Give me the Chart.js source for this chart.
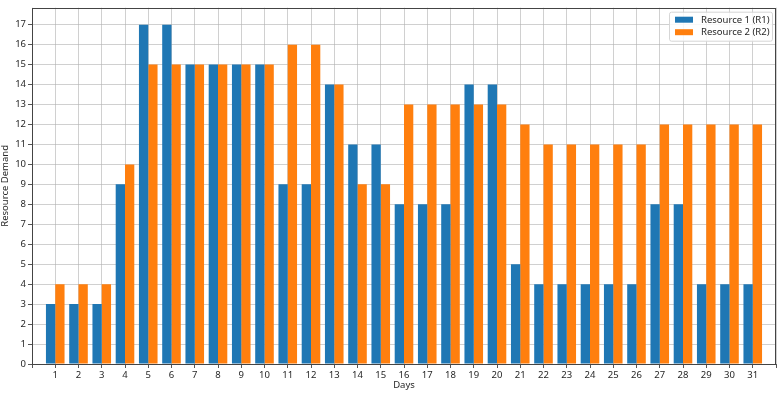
<!DOCTYPE html>
<html>
<head>
<meta charset="utf-8">
<script src="https://cdn.jsdelivr.net/npm/chart.js@4.4.0/dist/chart.umd.min.js"></script>
<style>
  html, body { margin: 0; padding: 0; background: #fff; }
</style>
</head>
<body>
<canvas id="chart" width="779" height="393"></canvas>
<script>
// данные
const days = ['1','2','3','4','5','6','7','8','9','10','11','12','13','14','15','16',
              '17','18','19','20','21','22','23','24','25','26','27','28','29','30','31'];
const r1 = [3, 3, 3, 9, 17, 17, 15, 15, 15, 15, 9, 9, 14, 11, 11, 8,
            8, 8, 14, 14, 5, 4, 4, 4, 4, 4, 8, 8, 4, 4, 4];
const r2 = [4, 4, 4, 10, 15, 15, 15, 15, 15, 15, 16, 16, 14, 9, 9, 13,
            13, 13, 13, 13, 12, 11, 11, 11, 11, 11, 12, 12, 12, 12, 12];
const seriesNames = ['Resource 1 (R1)', 'Resource 2 (R2)'];
const yMax = 17.85;

const FONT = '"Noto Sans", "DejaVu Sans", sans-serif';
const TEXT = '#262626';
const GRID = 'rgba(176,176,176,0.6)';

// пустые позиции по краям, чтобы ось шла от 0 до 32
const labels = [''].concat(days, ['']);
const pad = arr => [null].concat(arr, [null]);

// рамка вокруг области графика + легенда внутри
const frameAndLegend = {
    id: 'frameAndLegend',
    afterDraw(chart) {
        const { ctx, chartArea: a } = chart;
        ctx.save();
        ctx.strokeStyle = '#444';
        ctx.lineWidth = 1;
        ctx.strokeRect(Math.round(a.left) + 0.5, Math.round(a.top) + 0.5,
                       Math.round(a.right - a.left) - 1, Math.round(a.bottom - a.top));

        const w = 103, h = 29;
        const x = a.right - w - 4, y = a.top + 4;
        ctx.fillStyle = 'rgba(255,255,255,0.85)';
        ctx.strokeStyle = '#d6d6d6';
        ctx.beginPath();
        ctx.roundRect(x + 0.5, y + 0.5, w, h, 2);
        ctx.fill();
        ctx.stroke();

        ctx.font = '9.5px ' + FONT;
        ctx.textBaseline = 'middle';
        chart.data.datasets.forEach((ds, i) => {
            ctx.fillStyle = ds.backgroundColor;
            ctx.fillRect(x + 6, y + 5 + i * 12.5, 18, 6);
            ctx.fillStyle = TEXT;
            ctx.fillText(ds.label, x + 32, y + 8.5 + i * 12.5);
        });
        ctx.restore();
    }
};

new Chart(document.getElementById('chart'), {
    type: 'bar',
    data: {
        labels: labels,
        datasets: [
            { label: seriesNames[0], data: pad(r1), backgroundColor: '#1f77b4' },
            { label: seriesNames[1], data: pad(r2), backgroundColor: '#ff7f0e' }
        ]
    },
    options: {
        responsive: false,
        animation: false,
        layout: { padding: { top: 3, right: 3, left: 0, bottom: 0 } },
        datasets: { bar: { categoryPercentage: 0.8, barPercentage: 1.0 } },
        plugins: { legend: { display: false }, tooltip: { enabled: false } },
        scales: {
            x: {
                z: 1,
                offset: false,
                grid: { color: GRID, tickColor: '#555', tickLength: 4, offset: false },
                border: { display: false },
                ticks: { color: TEXT, font: { family: FONT, size: 9.5 }, padding: 2,
                         maxRotation: 0, autoSkip: false },
                title: { display: true, text: 'Days', color: TEXT,
                         font: { family: FONT, size: 9.5 }, padding: { top: 0, bottom: 2 } },
                afterFit: s => { s.height = 29; }
            },
            y: {
                z: 1,
                min: 0,
                max: yMax,
                grid: { color: GRID, tickColor: '#555', tickLength: 4 },
                border: { display: false },
                ticks: { stepSize: 1, color: TEXT, font: { family: FONT, size: 9.5 }, padding: 2 },
                afterBuildTicks: s => { s.ticks = s.ticks.filter(t => Number.isInteger(t.value)); },
                title: { display: true, text: 'Resource Demand', color: TEXT,
                         font: { family: FONT, size: 9.5 }, padding: { top: 0, bottom: 0 } },
                afterFit: s => { s.width = 32; }
            }
        }
    },
    plugins: [frameAndLegend]
});
</script>
</body>
</html>
